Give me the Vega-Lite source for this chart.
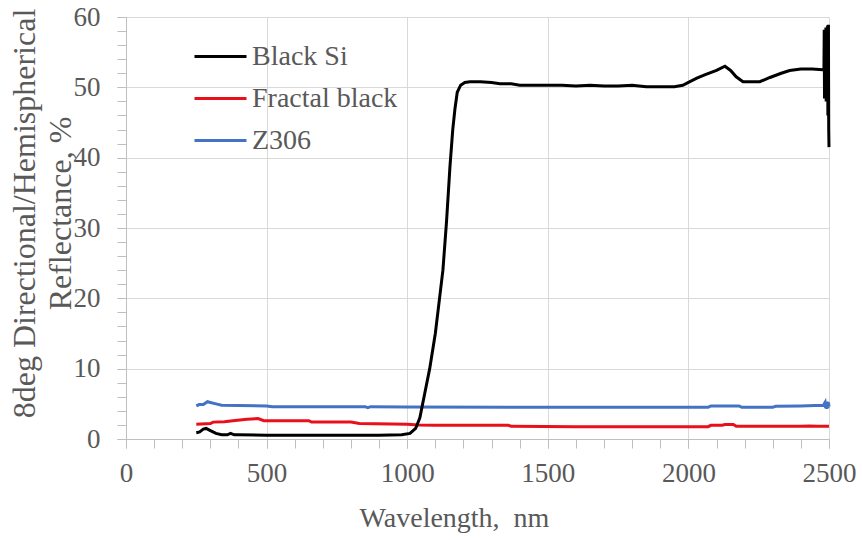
{
 "$schema": "https://vega.github.io/schema/vega-lite/v6.json",
 "width": 703,
 "height": 422,
 "autosize": {"type": "none"},
 "padding": {"left": 126, "top": 17, "right": 33, "bottom": 101},
 "background": "white",
 "config": {"view": {"stroke": null}, "font": "Liberation Serif", "axis": {"labelFont": "Liberation Serif", "titleFont": "Liberation Serif"}, "legend": {"labelFont": "Liberation Serif"}},
 "data": {"values": [
  {"s":"Fractal black","x":250,"y":2.1},{"s":"Fractal black","x":300,"y":2.2},{"s":"Fractal black","x":310,"y":2.4},{"s":"Fractal black","x":350,"y":2.45},{"s":"Fractal black","x":380,"y":2.6},{"s":"Fractal black","x":430,"y":2.8},{"s":"Fractal black","x":470,"y":2.9},{"s":"Fractal black","x":490,"y":2.6},{"s":"Fractal black","x":550,"y":2.6},{"s":"Fractal black","x":650,"y":2.6},{"s":"Fractal black","x":660,"y":2.4},{"s":"Fractal black","x":800,"y":2.4},{"s":"Fractal black","x":830,"y":2.2},{"s":"Fractal black","x":1000,"y":2.1},{"s":"Fractal black","x":1040,"y":2.0},{"s":"Fractal black","x":1100,"y":1.95},{"s":"Fractal black","x":1360,"y":1.95},{"s":"Fractal black","x":1370,"y":1.8},{"s":"Fractal black","x":1600,"y":1.75},{"s":"Fractal black","x":1900,"y":1.75},{"s":"Fractal black","x":2070,"y":1.75},{"s":"Fractal black","x":2080,"y":1.95},{"s":"Fractal black","x":2120,"y":1.95},{"s":"Fractal black","x":2130,"y":2.05},{"s":"Fractal black","x":2160,"y":2.05},{"s":"Fractal black","x":2170,"y":1.8},{"s":"Fractal black","x":2400,"y":1.8},{"s":"Fractal black","x":2430,"y":1.85},{"s":"Fractal black","x":2460,"y":1.8},{"s":"Fractal black","x":2500,"y":1.8},
  {"s":"Z306","x":250,"y":4.7},{"s":"Z306","x":260,"y":4.9},{"s":"Z306","x":275,"y":4.9},{"s":"Z306","x":290,"y":5.3},{"s":"Z306","x":300,"y":5.2},{"s":"Z306","x":320,"y":5.0},{"s":"Z306","x":340,"y":4.8},{"s":"Z306","x":400,"y":4.75},{"s":"Z306","x":500,"y":4.7},{"s":"Z306","x":520,"y":4.6},{"s":"Z306","x":700,"y":4.6},{"s":"Z306","x":850,"y":4.6},{"s":"Z306","x":860,"y":4.45},{"s":"Z306","x":870,"y":4.6},{"s":"Z306","x":1000,"y":4.55},{"s":"Z306","x":1500,"y":4.5},{"s":"Z306","x":2000,"y":4.5},{"s":"Z306","x":2070,"y":4.5},{"s":"Z306","x":2080,"y":4.7},{"s":"Z306","x":2180,"y":4.7},{"s":"Z306","x":2190,"y":4.5},{"s":"Z306","x":2300,"y":4.5},{"s":"Z306","x":2310,"y":4.65},{"s":"Z306","x":2400,"y":4.7},{"s":"Z306","x":2450,"y":4.75},{"s":"Z306","x":2480,"y":4.8},{"s":"Z306","x":2486,"y":5.2},{"s":"Z306","x":2488,"y":4.4},{"s":"Z306","x":2490,"y":5.3},{"s":"Z306","x":2492,"y":4.3},{"s":"Z306","x":2494,"y":5.3},{"s":"Z306","x":2496,"y":4.4},{"s":"Z306","x":2498,"y":5.2},{"s":"Z306","x":2500,"y":4.6},
  {"s":"Black Si","x":250,"y":0.9},{"s":"Black Si","x":262,"y":1.0},{"s":"Black Si","x":275,"y":1.4},{"s":"Black Si","x":285,"y":1.5},{"s":"Black Si","x":300,"y":1.2},{"s":"Black Si","x":320,"y":0.8},{"s":"Black Si","x":340,"y":0.6},{"s":"Black Si","x":360,"y":0.6},{"s":"Black Si","x":372,"y":0.8},{"s":"Black Si","x":385,"y":0.6},{"s":"Black Si","x":400,"y":0.6},{"s":"Black Si","x":500,"y":0.55},{"s":"Black Si","x":600,"y":0.55},{"s":"Black Si","x":700,"y":0.55},{"s":"Black Si","x":800,"y":0.55},{"s":"Black Si","x":900,"y":0.55},{"s":"Black Si","x":980,"y":0.6},{"s":"Black Si","x":1010,"y":0.8},{"s":"Black Si","x":1030,"y":1.5},{"s":"Black Si","x":1045,"y":3},{"s":"Black Si","x":1060,"y":6},{"s":"Black Si","x":1080,"y":10},{"s":"Black Si","x":1100,"y":15},{"s":"Black Si","x":1115,"y":20},{"s":"Black Si","x":1127,"y":24},{"s":"Black Si","x":1140,"y":31},{"s":"Black Si","x":1152,"y":38.7},{"s":"Black Si","x":1162,"y":44},{"s":"Black Si","x":1170,"y":47},{"s":"Black Si","x":1178,"y":49.3},{"s":"Black Si","x":1190,"y":50.3},{"s":"Black Si","x":1205,"y":50.7},{"s":"Black Si","x":1223,"y":50.8},{"s":"Black Si","x":1260,"y":50.8},{"s":"Black Si","x":1300,"y":50.7},{"s":"Black Si","x":1330,"y":50.5},{"s":"Black Si","x":1370,"y":50.5},{"s":"Black Si","x":1400,"y":50.3},{"s":"Black Si","x":1450,"y":50.3},{"s":"Black Si","x":1500,"y":50.3},{"s":"Black Si","x":1550,"y":50.3},{"s":"Black Si","x":1600,"y":50.2},{"s":"Black Si","x":1650,"y":50.3},{"s":"Black Si","x":1700,"y":50.2},{"s":"Black Si","x":1750,"y":50.2},{"s":"Black Si","x":1800,"y":50.3},{"s":"Black Si","x":1850,"y":50.1},{"s":"Black Si","x":1900,"y":50.1},{"s":"Black Si","x":1950,"y":50.1},{"s":"Black Si","x":1980,"y":50.3},{"s":"Black Si","x":2000,"y":50.7},{"s":"Black Si","x":2030,"y":51.3},{"s":"Black Si","x":2060,"y":51.8},{"s":"Black Si","x":2100,"y":52.4},{"s":"Black Si","x":2130,"y":53.0},{"s":"Black Si","x":2150,"y":52.4},{"s":"Black Si","x":2170,"y":51.5},{"s":"Black Si","x":2194,"y":50.8},{"s":"Black Si","x":2220,"y":50.8},{"s":"Black Si","x":2254,"y":50.8},{"s":"Black Si","x":2290,"y":51.4},{"s":"Black Si","x":2330,"y":52.0},{"s":"Black Si","x":2360,"y":52.4},{"s":"Black Si","x":2400,"y":52.6},{"s":"Black Si","x":2440,"y":52.6},{"s":"Black Si","x":2478,"y":52.5},{"s":"Black Si","x":2482,"y":52.5},{"s":"Black Si","x":2483,"y":58.2},{"s":"Black Si","x":2484,"y":48.4},{"s":"Black Si","x":2486,"y":57.8},{"s":"Black Si","x":2487,"y":49.0},{"s":"Black Si","x":2489,"y":58.5},{"s":"Black Si","x":2490,"y":48.0},{"s":"Black Si","x":2492,"y":58.2},{"s":"Black Si","x":2493,"y":48.5},{"s":"Black Si","x":2495,"y":58.8},{"s":"Black Si","x":2496,"y":46.0},{"s":"Black Si","x":2498,"y":58.9},{"s":"Black Si","x":2499,"y":44.0},{"s":"Black Si","x":2500,"y":41.5}
 ]},
 "layer": [
  {
   "mark": {"type": "line", "strokeWidth": 3},
   "encoding": {
    "x": {"field": "x", "type": "quantitative", "scale": {"domain": [0, 2500], "nice": false},
     "axis": {"values": [0, 500, 1000, 1500, 2000, 2500], "format": "d", "title": "Wavelength,\u00a0\u00a0nm", "titleFont": "Liberation Serif", "titleFontSize": 28, "titleFontWeight": "normal", "titleColor": "#595959", "titleX": 328, "titleY": 79, "titleBaseline": "middle", "titleAlign": "center", "labelFont": "Liberation Serif", "labelFontSize": 27, "labelColor": "#595959", "labelPadding": 12, "labelOverlap": false, "labelFlush": false, "tickSize": 9, "tickColor": "#bfbfbf", "domainColor": "#bfbfbf", "gridColor": "#d9d9d9", "grid": true}},
    "y": {"field": "y", "type": "quantitative", "scale": {"domain": [0, 60], "nice": false},
     "axis": {"values": [0, 10, 20, 30, 40, 50, 60], "format": "d", "title": ["8deg Directional/Hemispherical", "Reflectance, %"], "titleFont": "Liberation Serif", "titleFontSize": 32, "titleFontWeight": "normal", "titleColor": "#595959", "titleLineHeight": 36, "titleX": -102, "titleY": 196, "titleBaseline": "middle", "titleAlign": "center", "titleAngle": -90, "labelFont": "Liberation Serif", "labelFontSize": 27, "labelColor": "#595959", "labelPadding": 17, "labelOverlap": false, "labelFlush": false, "tickSize": 9, "tickColor": "#bfbfbf", "domainColor": "#bfbfbf", "gridColor": "#d9d9d9", "grid": true}},
    "color": {"field": "s", "type": "nominal",
     "scale": {"domain": ["Black Si", "Fractal black", "Z306"], "range": ["#000000", "#e8101a", "#4472c4"]},
     "legend": {"orient": "none", "legendX": 67, "legendY": 12, "title": null, "symbolType": "stroke", "symbolSize": 2704, "symbolStrokeWidth": 3, "labelFontSize": 28, "labelColor": "#595959", "labelFont": "Liberation Serif", "labelOffset": 4, "rowPadding": 0, "padding": 0}}
   }
  },
  {
   "mark": {"type": "line", "strokeOpacity": 0},
   "encoding": {
    "x": {"field": "x", "type": "quantitative",
     "axis": {"orient": "bottom", "values": [0,100,200,300,400,500,600,700,800,900,1000,1100,1200,1300,1400,1500,1600,1700,1800,1900,2000,2100,2200,2300,2400,2500], "labels": false, "grid": false, "domain": false, "title": null, "tickSize": 9, "tickColor": "#bfbfbf"}},
    "y": {"field": "y", "type": "quantitative",
     "axis": {"orient": "left", "values": [0,2,4,6,8,10,12,14,16,18,20,22,24,26,28,30,32,34,36,38,40,42,44,46,48,50,52,54,56,58,60], "labels": false, "grid": false, "domain": false, "title": null, "tickSize": 9, "tickColor": "#bfbfbf"}},
    "detail": {"field": "s", "type": "nominal"}
   }
  }
 ],
 "resolve": {"axis": {"x": "independent", "y": "independent"}}
}
